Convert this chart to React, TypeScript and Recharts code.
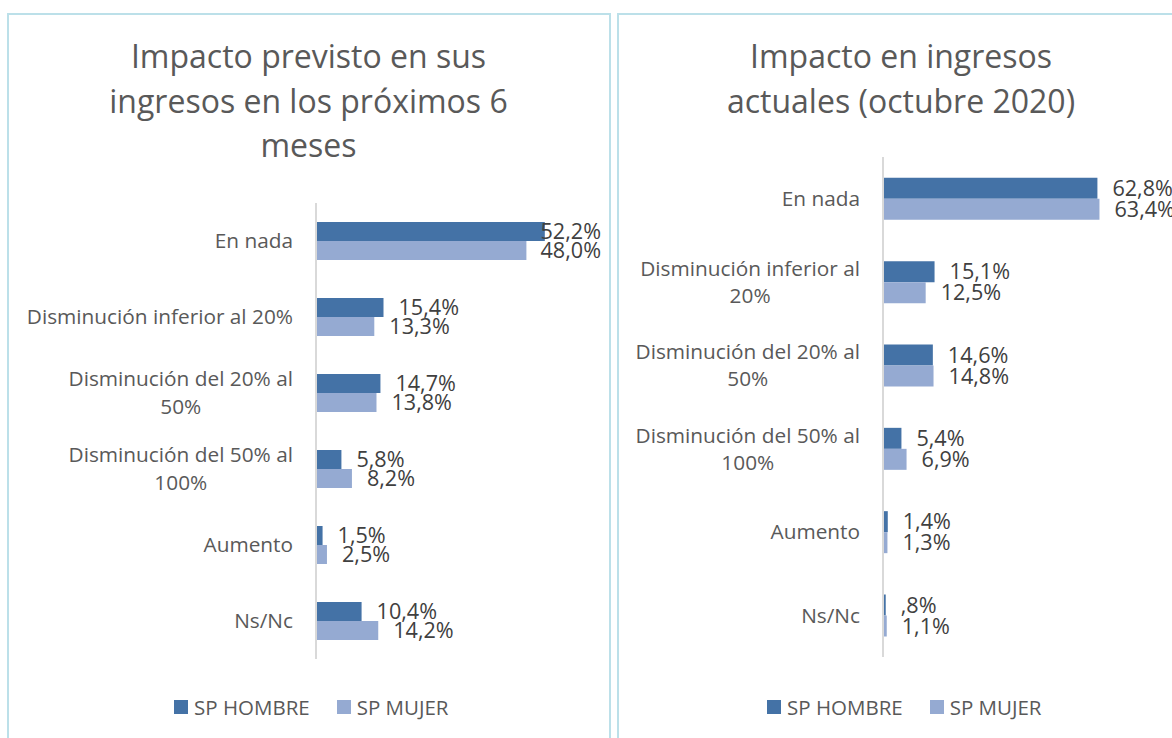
import React from "react";
import { BarChart, Bar, XAxis, YAxis, LabelList } from "recharts";

const categories = [
  "En nada",
  "Disminución inferior al 20%",
  "Disminución del 20% al 50%",
  "Disminución del 50% al 100%",
  "Aumento",
  "Ns/Nc",
];
const seriesNames = ["SP HOMBRE", "SP MUJER"];
const previstoHombre = [52.2, 15.4, 14.7, 5.8, 1.5, 10.4];
const previstoMujer = [48.0, 13.3, 13.8, 8.2, 2.5, 14.2];
const actualHombre = [62.8, 15.1, 14.6, 5.4, 1.4, 0.8];
const actualMujer = [63.4, 12.5, 14.8, 6.9, 1.3, 1.1];
const titleLeft = "Impacto previsto en sus ingresos en los próximos 6 meses";
const titleRight = "Impacto en ingresos actuales (octubre 2020)";

const DARK = "#4472A6";
const LIGHT = "#95AAD2";
const FONT = '"Open Sans", sans-serif';
const FS = 20.5;
const CFS = 20.8;
const LFS = 21.6;

const dataLeft = categories.map((c, i) => ({ cat: c, h: previstoHombre[i], m: previstoMujer[i] }));
const dataRight = categories.map((c, i) => ({ cat: c, h: actualHombre[i], m: actualMujer[i] }));

let ctx: CanvasRenderingContext2D | null = null;
function measure(s: string, size: number = FS): number {
  if (!ctx) {
    const c = document.createElement("canvas");
    ctx = c.getContext("2d");
  }
  if (!ctx) return s.length * size * 0.55;
  ctx.font = `${size}px "Open Sans"`;
  return ctx.measureText(s).width;
}

function wrap(s: string, maxW: number, size: number): string[] {
  const words = s.split(" ");
  const lines: string[] = [];
  let cur = "";
  for (const w of words) {
    const t = cur ? cur + " " + w : w;
    if (cur && measure(t, size) > maxW) {
      lines.push(cur);
      cur = w;
    } else cur = t;
  }
  if (cur) lines.push(cur);
  return lines;
}

function fmt(v: number): string {
  let s = v.toFixed(1).replace(".", ",");
  if (s.startsWith("0,")) s = s.slice(1);
  return s + "%";
}

const makeTick = (maxW: number, lh: number) => (props: any) => {
  const { x, y, payload } = props;
  const lines = wrap(String(payload.value), maxW, CFS);
  const blockW = Math.max(...lines.map((l) => measure(l, CFS)));
  const cx = x - blockW / 2;
  const y0 = y - ((lines.length - 1) * lh) / 2;
  return (
    <g>
      {lines.map((l, i) => (
        <text
          key={i}
          x={cx}
          y={y0 + i * lh}
          dy="0.36em"
          textAnchor="middle"
          fill="#595959"
          fontSize={CFS}
          fontFamily={FONT}
        >
          {l}
        </text>
      ))}
    </g>
  );
};

const makeLabel = (maxRight?: number) => (props: any) => {
  const { x, y, width, height, value } = props;
  const txt = fmt(Number(value));
  let lx = Number(x) + Number(width) + 15;
  if (maxRight !== undefined) lx = Math.min(lx, maxRight - measure(txt, LFS));
  return (
    <text
      x={lx}
      y={Number(y) + Number(height) / 2}
      dy="0.36em"
      fill="#404040"
      fontSize={LFS}
      fontFamily={FONT}
    >
      {txt}
    </text>
  );
};

const Legend2 = ({ left, top }: { left: number; top: number }) => (
  <div
    style={{
      position: "absolute",
      left,
      top,
      display: "flex",
      alignItems: "center",
      fontFamily: FONT,
      fontSize: FS,
      color: "#595959",
      whiteSpace: "nowrap",
    }}
  >
    {seriesNames.map((n, i) => (
      <div key={n} style={{ display: "flex", alignItems: "center", marginRight: i === 0 ? 27 : 0 }}>
        <div style={{ width: 14, height: 14, background: i === 0 ? DARK : LIGHT, marginRight: 6 }} />
        <span>{n}</span>
      </div>
    ))}
  </div>
);

const Title = ({ text, cx, width }: { text: string; cx: number; width: number }) => (
  <div
    style={{
      position: "absolute",
      left: cx - width / 2,
      top: 34,
      width,
      textAlign: "center",
      fontFamily: FONT,
      fontWeight: 400,
      fontSize: 32,
      lineHeight: "44.5px",
      color: "#595959",
    }}
  >
    {text}
  </div>
);

export default function App() {
  return (
    <div
      style={{
        position: "absolute",
        left: 0,
        top: 0,
        width: 1172,
        height: 738,
        overflow: "hidden",
        background: "#fff",
      }}
    >
      <div
        style={{
          position: "absolute",
          left: 7,
          top: 13,
          width: 600,
          height: 760,
          border: "2px solid #BCE0E9",
        }}
      />
      <div
        style={{
          position: "absolute",
          left: 617,
          top: 13,
          width: 600,
          height: 760,
          border: "2px solid #BCE0E9",
        }}
      />
      <Title text={titleLeft} cx={308.5} width={440} />
      <Title text={titleRight} cx={901} width={390} />

      <div style={{ position: "absolute", left: 0, top: 0 }}>
        <BarChart
          width={609}
          height={738}
          data={dataLeft}
          layout="vertical"
          margin={{ top: 203, right: 30, bottom: 79, left: 0 }}
          barCategoryGap="25%"
          barGap={0}
        >
          <XAxis type="number" domain={[0, 60]} hide />
          <YAxis
            type="category"
            dataKey="cat"
            width={316}
            interval={0}
            tickLine={false}
            tickSize={0}
            tickMargin={23}
            axisLine={{ stroke: "#D9D9D9", strokeWidth: 2 }}
            tick={makeTick(267, 28)}
          />
          <Bar dataKey="h" name={seriesNames[0]} fill={DARK} isAnimationActive={false}>
            <LabelList dataKey="h" content={makeLabel(601)} />
          </Bar>
          <Bar dataKey="m" name={seriesNames[1]} fill={LIGHT} isAnimationActive={false}>
            <LabelList dataKey="m" content={makeLabel(601)} />
          </Bar>
        </BarChart>
      </div>

      <div style={{ position: "absolute", left: 609, top: 0 }}>
        <BarChart
          width={563}
          height={738}
          data={dataRight}
          layout="vertical"
          margin={{ top: 157, right: 50, bottom: 81, left: 0 }}
          barCategoryGap="25%"
          barGap={0}
        >
          <XAxis type="number" domain={[0, 70]} hide />
          <YAxis
            type="category"
            dataKey="cat"
            width={274}
            interval={0}
            tickLine={false}
            tickSize={0}
            tickMargin={23}
            axisLine={{ stroke: "#D9D9D9", strokeWidth: 2 }}
            tick={makeTick(228, 27)}
          />
          <Bar dataKey="h" name={seriesNames[0]} fill={DARK} isAnimationActive={false}>
            <LabelList dataKey="h" content={makeLabel()} />
          </Bar>
          <Bar dataKey="m" name={seriesNames[1]} fill={LIGHT} isAnimationActive={false}>
            <LabelList dataKey="m" content={makeLabel()} />
          </Bar>
        </BarChart>
      </div>

      <Legend2 left={174} top={693} />
      <Legend2 left={767} top={693} />
    </div>
  );
}
